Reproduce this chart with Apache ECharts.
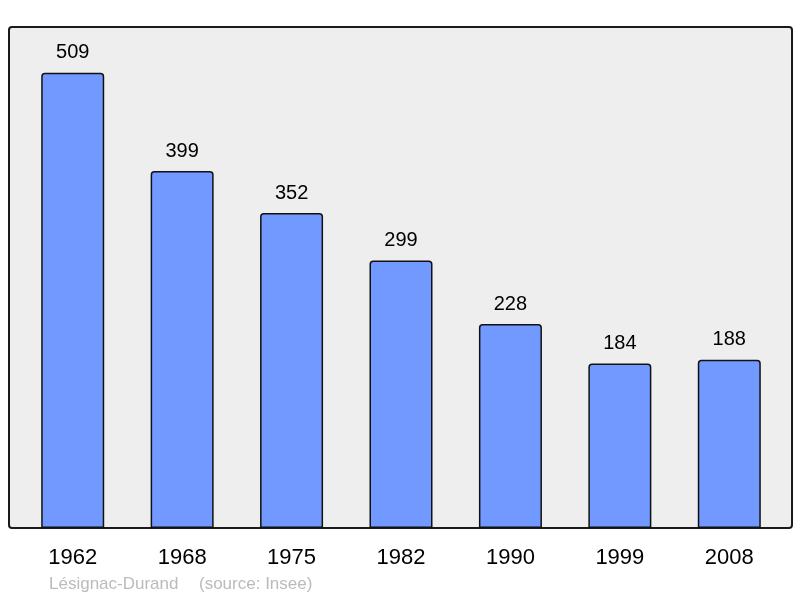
<!DOCTYPE html>
<html><head><meta charset="utf-8">
<script src="https://cdn.jsdelivr.net/npm/echarts@6/dist/echarts.min.js"></script>
<style>html,body{margin:0;padding:0;background:#fff}#c{width:800px;height:598px}</style>
</head><body><div id="c"></div>
<script>
const years = ['1962','1968','1975','1982','1990','1999','2008'];
const population = [509, 399, 352, 299, 228, 184, 188];
const chart = echarts.init(document.getElementById('c'));
chart.setOption({
  animation: false,
  graphic: [
    {type:'rect', z:-10, shape:{x:9, y:27, width:783, height:501, r:3},
     style:{fill:'#eeeeee', stroke:'#1a1a1a', lineWidth:2}},
    {type:'text', left:49, top:576, style:{text:'Lésignac-Durand', fill:'#bbbbbb', font:'17px "Liberation Sans", Arial, sans-serif'}},
    {type:'text', left:199, top:576, style:{text:'(source: Insee)', fill:'#bbbbbb', font:'17px "Liberation Sans", Arial, sans-serif'}}
  ],
  grid: {left:18, right:16, top:27, bottom:70},
  xAxis: {type:'category', data: years,
    axisLine:{show:false}, axisTick:{show:false},
    axisLabel:{color:'#000', fontSize:22, margin:19, fontFamily:'"Liberation Sans", Arial, sans-serif'}},
  yAxis: {type:'value', min:0, max:560, show:false, splitLine:{show:false}},
  series: [{type:'bar', data: population, barWidth:63,
    itemStyle:{color:'#7199ff', borderColor:'#111', borderWidth:1.5, borderRadius:[3,3,0,0]},
    label:{show:true, position:'top', distance:10, color:'#000', fontSize:20,
      fontFamily:'"Liberation Sans", Arial, sans-serif'}}]
});
</script></body></html>
